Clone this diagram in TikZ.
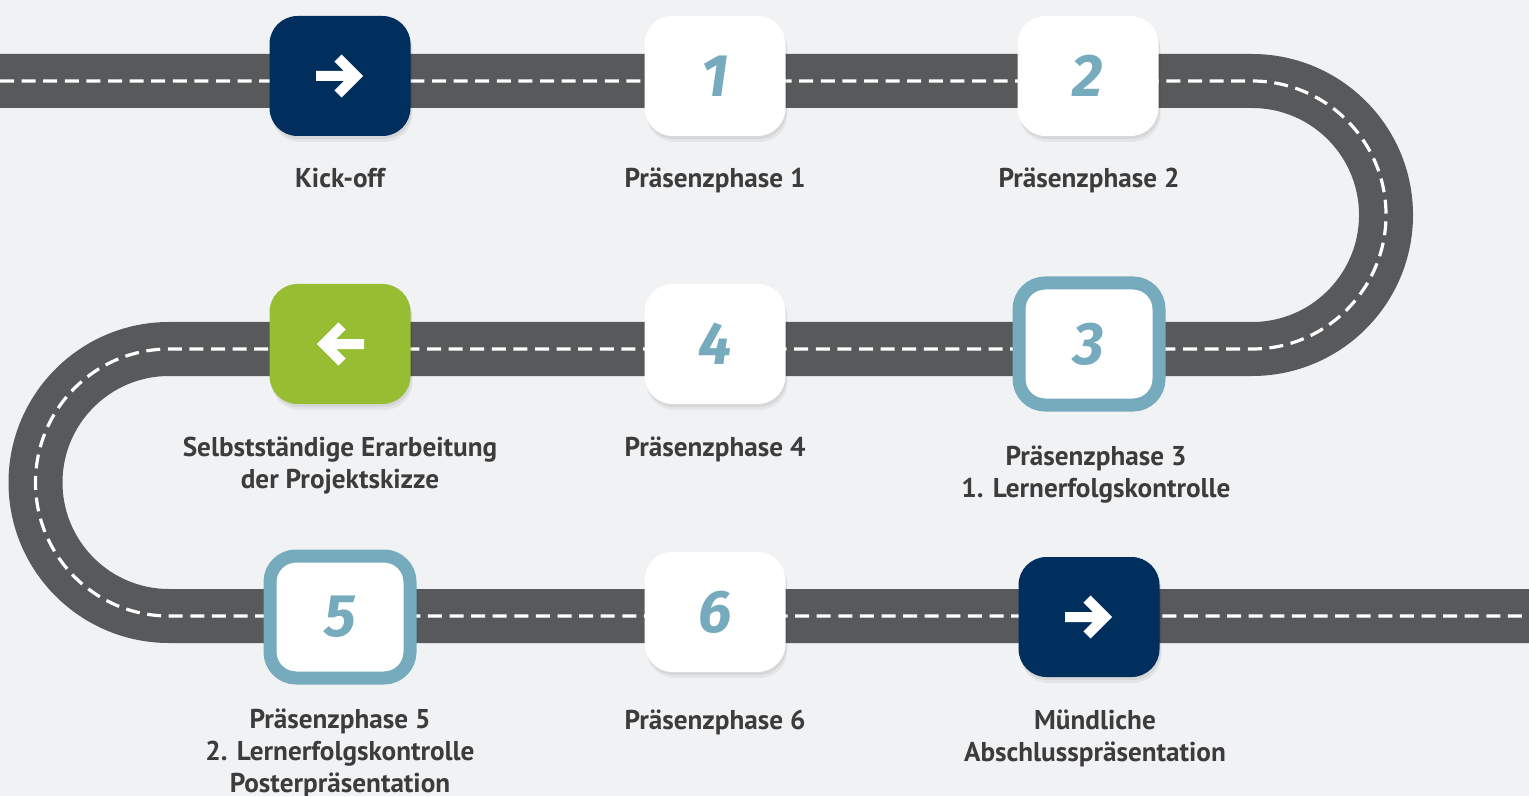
\documentclass[tikz,border=0pt]{standalone}
\usepackage{fontspec}
\setmainfont{PT Sans}
\newfontfamily\numfont{Fira Sans}
\usetikzlibrary{shadows}
\definecolor{bg}{HTML}{F1F2F4}
\definecolor{roadgray}{HTML}{58595B}
\definecolor{navy}{HTML}{002E5D}
\definecolor{lime}{HTML}{97BD33}
\definecolor{steel}{HTML}{76AABD}
\definecolor{txt}{HTML}{3C3C3C}
\newcommand\myrarrow[1]{\draw[arrowglyph] ([xshift=-12pt]#1.center) -- ([xshift=8pt]#1.center)
  ([shift={(-1pt,9pt)}]#1.center) -- ([xshift=8pt]#1.center) -- ([shift={(-1pt,-9pt)}]#1.center);}
\newcommand\mylarrow[1]{\draw[arrowglyph] ([xshift=12pt]#1.center) -- ([xshift=-8pt]#1.center)
  ([shift={(1pt,9pt)}]#1.center) -- ([xshift=-8pt]#1.center) -- ([shift={(1pt,-9pt)}]#1.center);}
\begin{document}
\begin{tikzpicture}[x=0.5pt,y=-0.5pt,
  box/.style={rectangle, rounded corners=14pt, minimum width=70.5pt, minimum height=60pt, inner sep=0pt,
    drop shadow={shadow xshift=0.6pt, shadow yshift=-1.5pt, opacity=0.06, fill=black},
    drop shadow={shadow xshift=1pt, shadow yshift=-3pt, opacity=0.05, fill=black}},
  navybox/.style={box, fill=navy},
  limebox/.style={box, fill=lime},
  whitebox/.style={box, fill=white, text=steel, font=\numfont\bfseries\itshape\fontsize{30}{30}\selectfont},
  ringbox/.style={whitebox, draw=steel, line width=6.5pt, minimum width=70pt, minimum height=61pt, rounded corners=13pt},
  lbl/.style={align=center, text=txt, font=\bfseries\fontsize{13.6}{16}\selectfont, anchor=base, inner sep=0pt},
  arrowglyph/.style={white, line width=5pt},
  roadline/.style={roadgray, line width=27pt},
  laneline/.style={white, line width=1.6pt, dash pattern=on 7pt off 3.8pt},
]
\fill[bg] (0,0) rectangle (1529,796);
\useasboundingbox (0,0) rectangle (1529,796);

% road
\coordinate (r0) at (0,81);
\coordinate (r1) at (1252,81);
\coordinate (r2) at (169,349);
\coordinate (r3) at (1529,616);
\draw[roadline] (r0) -- (r1) arc[start angle=90, end angle=-90, radius=67pt] -- (r2)
  arc[start angle=90, end angle=270, radius=66.75pt] -- (r3);
\draw[laneline] (r0) -- (r1) arc[start angle=90, end angle=-90, radius=67pt] -- (r2)
  arc[start angle=90, end angle=270, radius=66.75pt] -- (r3);

% boxes
\node[navybox] (kick) at (340,76) {};
\node[whitebox] (p1) at (715,76) {1};
\node[whitebox] (p2) at (1088,76) {2};
\node[limebox] (self) at (340,344) {};
\node[whitebox] (p4) at (715,344) {4};
\node[ringbox] (p3) at (1089,344) {3};
\node[ringbox] (p5) at (340,617) {5};
\node[whitebox] (p6) at (715,612) {6};
\node[navybox] (fin) at (1089,617) {};
\myrarrow{kick}
\mylarrow{self}
\myrarrow{fin}

% labels (anchor = baseline of last line)
\node[lbl] (lkick) at (340,188) {Kick-off};
\node[lbl] (lp1) at (715,188) {Präsenzphase 1};
\node[lbl] (lp2) at (1089,188) {Präsenzphase 2};
\node[lbl] (lself) at (340,488) {Selbstständige Erarbeitung\\der Projektskizze};
\node[lbl] (lp4) at (715,456) {Präsenzphase 4};
\node[lbl] (lp3) at (1096,497) {Präsenzphase 3\\1. Lernerfolgskontrolle};
\node[lbl] (lp5) at (340,792) {Präsenzphase 5\\2. Lernerfolgskontrolle\\Posterpräsentation};
\node[lbl] (lp6) at (715,729) {Präsenzphase 6};
\node[lbl] (lfin) at (1095,761) {Mündliche\\Abschlusspräsentation};
\end{tikzpicture}
\end{document}
